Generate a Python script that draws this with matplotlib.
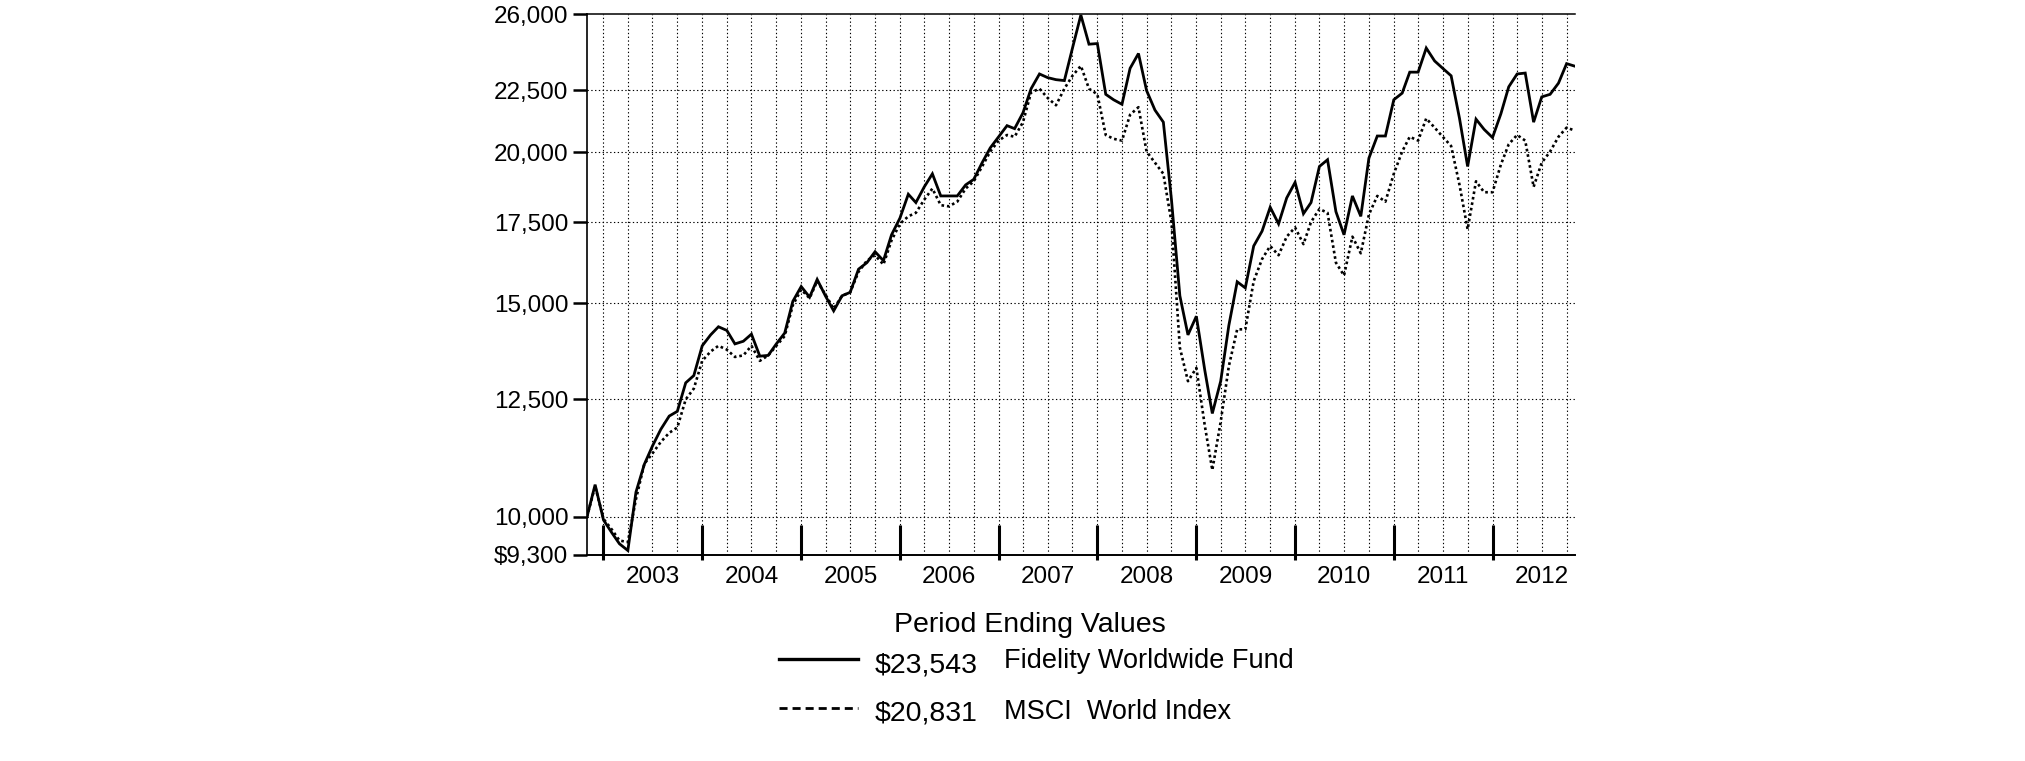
import numpy as np
import pandas as pd
import matplotlib
matplotlib.use("Agg")
import matplotlib.pyplot as plt
from matplotlib.lines import Line2D
from matplotlib.ticker import NullLocator

plt.rcParams['font.family'] = ['Liberation Sans', 'DejaVu Sans']

# month-end values, Oct 2002 .. Oct 2012 (hypothetical $10,000)
period_ends = pd.date_range("2002-10-31", "2012-10-31", freq="ME")

fund = [
    10000, 10630, 9940, 9700, 9500, 9380, 10480, 11050, 11440, 11810,
    12110, 12220, 12900, 13080, 13840, 14130, 14350, 14250, 13890, 13960,
    14150, 13570, 13590, 13890, 14180, 15060, 15490, 15180, 15700, 15210,
    14790, 15220, 15320, 16010, 16210, 16550, 16270, 17090, 17640, 18460,
    18170, 18720, 19190, 18400, 18400, 18400, 18790, 18990, 19600, 20160,
    20590, 21030, 20910, 21550, 22560, 23200, 23040, 22950, 22910, 24370,
    25950, 24550, 24580, 22320, 22090, 21900, 23450, 24120, 22480, 21660,
    21170, 18270, 15220, 14130, 14640, 13220, 12170, 12940, 14380, 15630,
    15450, 16730, 17210, 18010, 17450, 18330, 18880, 17790, 18170, 19460,
    19710, 17860, 17090, 18400, 17700, 19770, 20620, 20620, 22090, 22370,
    23280, 23280, 24370, 23780, 23450, 23120, 21320, 19460, 21290, 20880,
    20560, 21510, 22640, 23200, 23240, 21170, 22210, 22320, 22800, 23660,
    23543,
]

index = [
    10000, 10600, 9960, 9760, 9560, 9530, 10340, 11060, 11280, 11530,
    11730, 11850, 12500, 12760, 13450, 13690, 13840, 13740, 13550, 13590,
    13840, 13450, 13590, 13840, 14100, 14950, 15400, 15150, 15650, 15250,
    14850, 15220, 15320, 15930, 16270, 16440, 16150, 16910, 17450, 17700,
    17820, 18270, 18660, 18080, 18040, 18200, 18660, 18920, 19460, 20020,
    20440, 20660, 20590, 21170, 22400, 22560, 22170, 21860, 22560, 23120,
    23560, 22560, 22320, 20660, 20510, 20440, 21470, 21780, 20020, 19600,
    19190, 17510, 13790, 12940, 13270, 11900, 10930, 11980, 13310, 14280,
    14280, 15650, 16320, 16730, 16440, 17030, 17330, 16790, 17510, 17950,
    17820, 16210, 15820, 17030, 16500, 17760, 18400, 18200, 19190, 20020,
    20590, 20440, 21320, 20950, 20590, 20230, 18790, 17270, 18920, 18530,
    18530, 19530, 20300, 20660, 20440, 18720, 19600, 20020, 20590, 20950,
    20831,
]

years = list(range(2003, 2013))
y_ticks = [9300, 10000, 12500, 15000, 17500, 20000, 22500, 26000]
y_labels = ["$9,300", "10,000", "12,500", "15,000", "17,500", "20,000", "22,500", "26,000"]

legend_values = ["$23,543", "$20,831"]
legend_names = ["Fidelity Worldwide Fund", "MSCI  World Index"]

W, H = 2025, 761
fig = plt.figure(figsize=(W / 100, H / 100), dpi=100)
ax = fig.add_axes([587 / W, 1 - 555 / H, (1575 - 587) / W, (555 - 14) / H])

# dotted grid: quarter ends and value levels
dotted = dict(color="black", lw=0.8, dashes=(1.2, 2.2), zorder=1)
for q in pd.date_range("2002-12-31", "2012-10-31", freq="QE"):
    ax.axvline(q, **dotted)
for yv in y_ticks[1:-1]:
    ax.axhline(yv, **dotted)

ax.plot(period_ends, fund, color="black", lw=2.0, solid_joinstyle="miter", zorder=3)
ax.plot(period_ends, index, color="black", lw=1.9, dashes=(1.0, 1.1), zorder=2)

ax.set_yscale("log")
ax.set_ylim(9300, 26000)
ax.set_xlim(period_ends[0], period_ends[-1])
ax.set_yticks(y_ticks)
ax.set_yticklabels(y_labels)
ax.yaxis.set_minor_locator(NullLocator())
ax.xaxis.set_minor_locator(NullLocator())
ax.tick_params(axis="y", length=10, width=1.8, pad=3.5, labelsize=17.5)

# year labels mid-year, separators at year ends
ax.set_xticks(pd.to_datetime([f"{y}-07-01" for y in years]))
ax.set_xticklabels([str(y) for y in years])
ax.tick_params(axis="x", length=0, pad=8, labelsize=17.5)
year_ends = pd.to_datetime([f"{y}-12-31" for y in range(2002, 2012)])
ax.vlines(year_ends, -5 / 541, 30 / 541, transform=ax.get_xaxis_transform(),
          color="black", lw=2.2, clip_on=False, zorder=4)

ax.spines["right"].set_visible(False)
ax.spines["top"].set_linewidth(1.1)
ax.spines["left"].set_linewidth(1.2)
ax.spines["bottom"].set_linewidth(1.4)

# legend block below the chart
fig.text(1030 / W, 1 - 632 / H, "Period Ending Values", ha="center", va="baseline", fontsize=20.5)
rows = [(659, 673, 668, None), (708, 721, 719, (2.9, 1.8))]
for (ly, vy, ny, dash), val, name in zip(rows, legend_values, legend_names):
    line = Line2D([779 / W, 858 / W], [1 - ly / H, 1 - ly / H], color="black", lw=2.4,
                  transform=fig.transFigure)
    if dash:
        line.set_dashes(dash)
        line.set_linewidth(2.0)
    fig.add_artist(line)
    fig.text(875 / W, 1 - vy / H, val, ha="left", va="baseline", fontsize=20.5)
    fig.text(1004 / W, 1 - ny / H, name, ha="left", va="baseline", fontsize=19.5)

fig.savefig("out.png", dpi=100, facecolor="white")
